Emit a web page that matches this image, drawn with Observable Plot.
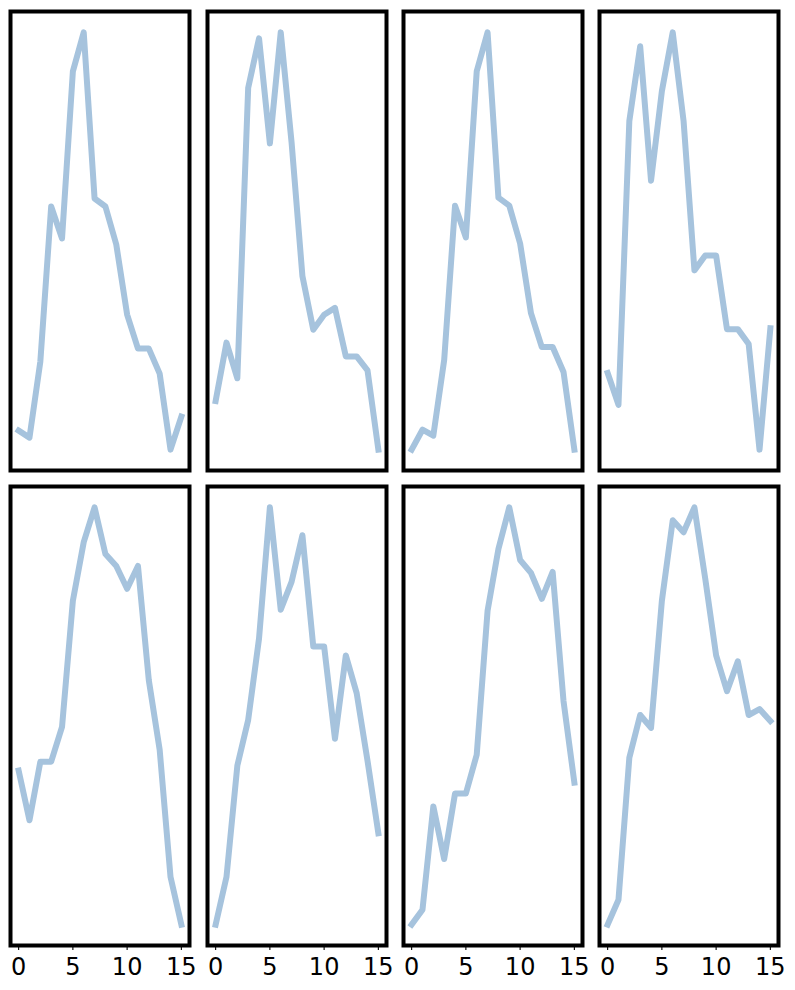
<!DOCTYPE html>
<html><head><meta charset="utf-8">
<script src="https://cdn.jsdelivr.net/npm/d3@7"></script>
<script src="https://cdn.jsdelivr.net/npm/@observablehq/plot@0.6"></script>
<style>
body{margin:0;background:#fff;}
#wrap{position:relative;width:795px;height:990px;overflow:hidden;font-family:"DejaVu Sans",sans-serif;background:#fff;}
#wrap svg{position:absolute;}
#wrap svg text{font-family:"DejaVu Sans",sans-serif;font-size:24px;fill:#000;}
</style></head><body><div id="wrap"></div>
<script>
const xs = [0,1,2,3,4,5,6,7,8,9,10,11,12,13,14,15];
const xTicks = [0,5,10,15];

const panel1 = [41,34,110,265,233,400,439,273,265,227,157,123,123,98,22,55];
const panel2 = [67,126,90,383,433,327,439,328,193,139,154,161,112,112,98,18];
const panel3 = [20,40,34,110,265,233,400,439,273,265,227,157,123,123,98,20];
const panel4 = [97,65,350,425,290,380,439,350,200,215,215,141,141,126,20,142];
const panel5 = [174,124,183,183,218,345,404,439,392,380,357,380,265,195,67,19];
const panel6 = [19,67,179,225,307,439,336,364,411,299,299,206,290,252,184,111];
const panel7 = [19,34,138,85,151,151,190,335,397,439,386,373,347,374,244,162];
const panel8 = [19,44,187,230,217,345,426,414,439,367,290,254,284,230,236,224];

const panels = [panel1,panel2,panel3,panel4,panel5,panel6,panel7,panel8];

const wrap = document.getElementById("wrap");
const lineColor = "#a6c3dd";
const W = 179, H = 459, m = 8;

panels.forEach((vals, i) => {
  const row = Math.floor(i / 4), col = i % 4;
  const isBottom = row === 1;
  const data = xs.map((x, j) => ({x, y: vals[j]}));
  const [lo, hi] = d3.extent(vals);
  const pad = (hi - lo) * 0.05;
  const mB = isBottom ? 45 : m;
  const chart = Plot.plot({
    width: W + 2 * m,
    height: H + m + mB,
    marginLeft: m, marginRight: m, marginTop: m, marginBottom: mB,
    style: {background: "transparent", overflow: "visible", fontFamily: "DejaVu Sans", fontSize: "24px", color: "#000"},
    x: {domain: [-0.75, 15.75], axis: null, label: null},
    y: {domain: [lo - pad, hi + pad], axis: null},
    marks: [
      isBottom ? Plot.axisX({ticks: xTicks, label: null, tickSize: 5, tickPadding: 7, fontSize: 24, tickFormat: d => String(d), stroke: "#000", strokeWidth: 1.1}) : null,
      Plot.line(data, {x: "x", y: "y", stroke: lineColor, strokeWidth: 6, strokeLinejoin: "round", strokeLinecap: "square"}),
      Plot.frame({stroke: "#000", strokeWidth: 4})
    ]
  });
  chart.style.left = (10.3 + 196.3 * col - m) + "px";
  chart.style.top = ((row ? 486 : 10.5) - m) + "px";
  wrap.appendChild(chart);
});
</script>
</body></html>
